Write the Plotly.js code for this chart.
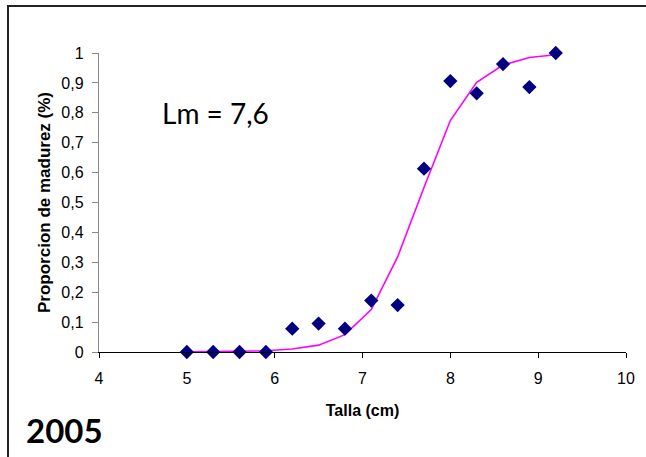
<!DOCTYPE html>
<html>
<head>
<meta charset="utf-8">
<script src="https://cdn.plot.ly/plotly-3.0.1.min.js"></script>
<style>
  html, body { margin: 0; padding: 0; background: #fff; }
  #wrap { position: relative; width: 646px; height: 457px; }
  #frame { position: absolute; left: 7px; top: 5px; width: 639px; height: 452px;
           border-left: 2px solid #222; border-top: 2px solid #222; box-sizing: border-box; pointer-events: none; }
  #chart { position: absolute; left: 0; top: 0; width: 646px; height: 457px; }
</style>
</head>
<body>
<div id="wrap">
  <div id="chart"></div>
  <div id="frame"></div>
</div>
<script>
// Observed data (talla in cm, proportion mature)
const tallaObs = [5.0, 5.3, 5.6, 5.9, 6.2, 6.5, 6.8, 7.1, 7.4, 7.7, 8.0, 8.3, 8.6, 8.9, 9.2];
const propObs  = [0, 0, 0, 0, 0.078, 0.095, 0.078, 0.172, 0.157, 0.613, 0.906, 0.865, 0.963, 0.886, 1.0];

// Fitted curve values
const tallaFit = [5.0, 5.3, 5.6, 5.9, 6.2, 6.5, 6.8, 7.1, 7.4, 7.7, 8.0, 8.3, 8.6, 8.9, 9.2];
const propFit  = [0.0005, 0.001, 0.002, 0.004, 0.01, 0.023, 0.058, 0.142, 0.318, 0.55, 0.774, 0.902, 0.96, 0.985, 0.994];

const xTicks = [4, 5, 6, 7, 8, 9, 10];
const yTicks = [0, 0.1, 0.2, 0.3, 0.4, 0.5, 0.6, 0.7, 0.8, 0.9, 1];

const traces = [
  {
    x: tallaFit, y: propFit, type: 'scatter', mode: 'lines',
    line: { color: '#FF00FF', width: 1.6 }, hoverinfo: 'skip', showlegend: false
  },
  {
    x: tallaObs, y: propObs, type: 'scatter', mode: 'markers',
    marker: { symbol: 'diamond', color: '#000080', size: 11 }, showlegend: false, cliponaxis: false
  }
];

const layout = {
  width: 646, height: 457,
  margin: { l: 99, r: 20, t: 53, b: 105 },
  paper_bgcolor: '#fff', plot_bgcolor: '#fff',
  separators: ',.',
  font: { family: 'Liberation Sans, Arial, sans-serif', size: 16, color: '#000' },
  xaxis: {
    range: [4, 10], tickvals: xTicks, showgrid: false, zeroline: false,
    showline: true, linecolor: '#000', linewidth: 1.2,
    ticks: 'outside', ticklen: 5, tickcolor: '#000',
    tickfont: { size: 16 }, ticklabelstandoff: 7,
    title: { text: 'Talla (cm)', font: { size: 16, weight: 'bold', family: 'Liberation Sans, Arial, sans-serif' }, standoff: 18 }
  },
  yaxis: {
    range: [0, 1], tickvals: yTicks, showgrid: false, zeroline: false,
    showline: true, linecolor: '#888', linewidth: 1.2,
    ticks: 'outside', ticklen: 6, tickcolor: '#888',
    tickfont: { size: 16 }, ticklabelstandoff: 5,
    title: { text: 'Proporcion de madurez (%)', font: { size: 17, weight: 'bold', family: 'Liberation Sans, Arial, sans-serif' }, standoff: 6 }
  },
  annotations: [
    { text: 'Lm = 7,6', xref: 'x', yref: 'y', x: 4.7, y: 0.8, xanchor: 'left', yanchor: 'middle',
      showarrow: false, font: { family: 'Lato, Open Sans, sans-serif', size: 28, color: '#000' } },
    { text: '<b>2005</b>', xref: 'paper', yref: 'paper', x: -0.142, y: -0.26, xanchor: 'left', yanchor: 'middle',
      showarrow: false, font: { family: 'Lato, Open Sans, sans-serif', size: 33, color: '#000' } }
  ]
};

Plotly.newPlot('chart', traces, layout, { displayModeBar: false, staticPlot: true });
</script>
</body>
</html>
